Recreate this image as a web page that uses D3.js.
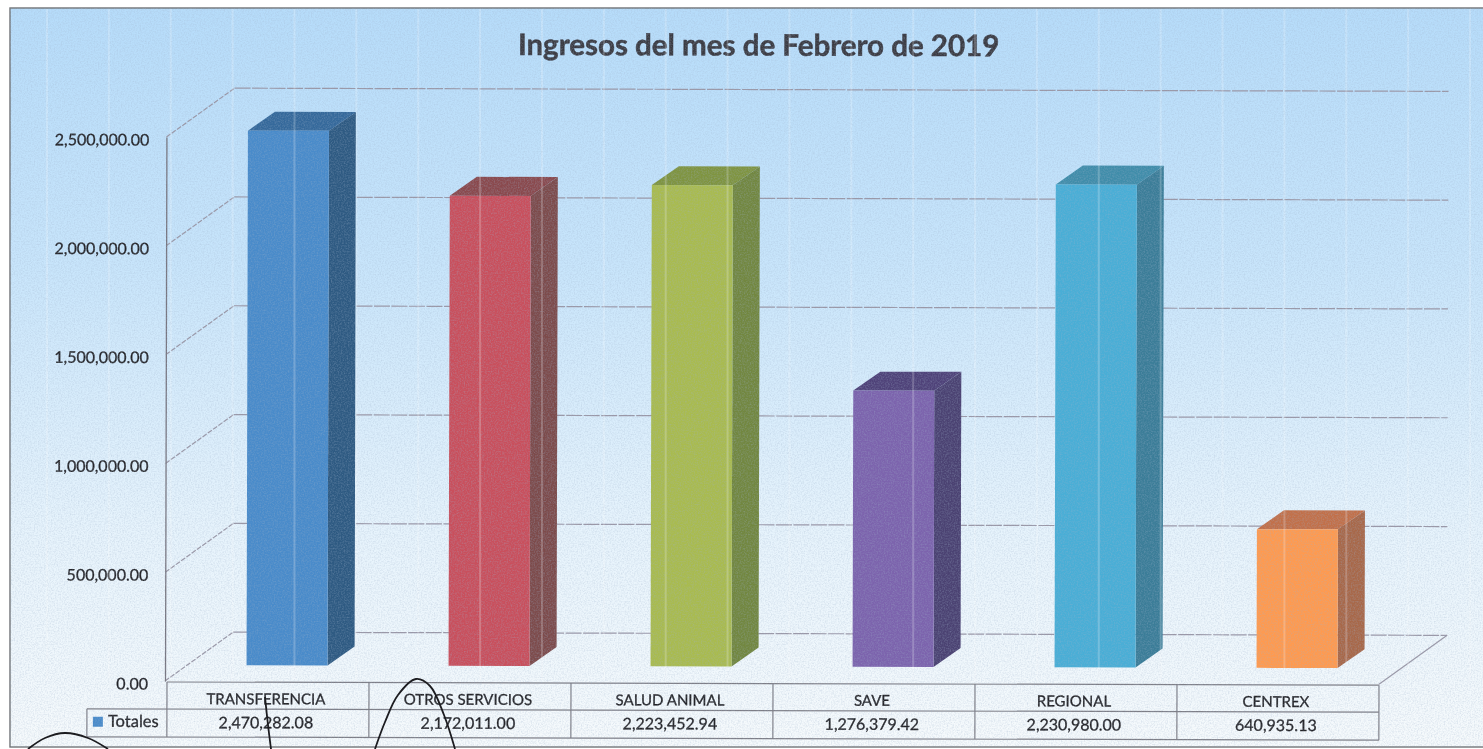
<!DOCTYPE html>
<html>
<head>
<meta charset="utf-8">
<style>
  html, body { margin: 0; padding: 0; background: #fff; overflow: hidden; }
  text { font-family: Lato, "Open Sans", sans-serif; fill: #242428; stroke: #242428; stroke-width: 0.3px; }
</style>
<script src="https://cdn.jsdelivr.net/npm/d3@7"></script>
</head>
<body>
<div id="chart"></div>
<script>
const titleText = 'Ingresos del mes de Febrero de 2019';
const categories = ['TRANSFERENCIA', 'OTROS SERVICIOS', 'SALUD ANIMAL', 'SAVE', 'REGIONAL', 'CENTREX'];
const totals = [2470282.08, 2172011.00, 2223452.94, 1276379.42, 2230980.00, 640935.13];
const tickValues = [0, 500000, 1000000, 1500000, 2000000, 2500000];
const seriesName = 'Totales';
const frontColors = ['#4a8bca', '#c9505b', '#a9bb50', '#7c63ad', '#4aaed6', '#ff9a50'];
const topColors = ['#35699b', '#8a4a4e', '#7f9440', '#4f4279', '#3f8daa', '#c2704a'];
const sideColors = ['#2f5a82', '#7d4b4b', '#72873f', '#4b4272', '#3a7d98', '#a8674a'];

// pen marks on the scanned page
const penArcA = [[28, 749], [45, 738], [65, 733], [88, 738], [108, 749]];
const penArcB = [[375, 749], [385, 722], [398, 695], [416, 679], [430, 686], [444, 715], [455, 749]];
const penStroke = [[265, 697], [268, 725], [271, 749]];

const width = 1483, height = 749;
const depthX = 68, depthY = 49;   // back wall offset
const barDX = 27, barDY = 19;     // bar depth

const svg = d3.select('#chart').append('svg')
  .attr('width', width)
  .attr('height', height)
  .style('display', 'block');

const defs = svg.append('defs');

const grad = defs.append('linearGradient')
  .attr('id', 'bg').attr('x1', 0).attr('y1', 0).attr('x2', 0).attr('y2', 1);
grad.append('stop').attr('offset', '0%').attr('stop-color', '#b6dcfa');
grad.append('stop').attr('offset', '35%').attr('stop-color', '#c8e5fb');
grad.append('stop').attr('offset', '70%').attr('stop-color', '#e6f3fc');
grad.append('stop').attr('offset', '100%').attr('stop-color', '#f6fafc');

// paper grain
const grain = defs.append('filter').attr('id', 'grain')
  .attr('x', 0).attr('y', 0).attr('width', '100%').attr('height', '100%');
grain.append('feTurbulence')
  .attr('type', 'fractalNoise').attr('baseFrequency', 0.7).attr('numOctaves', 2).attr('seed', 4);
grain.append('feColorMatrix')
  .attr('type', 'matrix')
  .attr('values', '0 0 0 0 0.35  0 0 0 0 0.45  0 0 0 0 0.6  0 0 0 1.1 -0.42');

const soft = defs.append('filter').attr('id', 'soft');
soft.append('feGaussianBlur').attr('stdDeviation', 0.45);

const page = svg.append('g').attr('filter', 'url(#soft)');

page.append('rect')
  .attr('x', 10).attr('y', 8)
  .attr('width', width).attr('height', 739)
  .attr('fill', 'url(#bg)')
  .attr('stroke', '#6f7275')
  .attr('stroke-width', 1.4);

// slight skew from the scanner
const chart = page.append('g').attr('transform', 'rotate(0.15 167 682)');

const y = d3.scaleLinear().domain([0, 2500000]).range([681, 137]);
const barY = d3.scaleLinear().domain([0, 2500000]).range([665, 124]);
const x = d3.scaleBand().domain(categories).range([167, 1379]);
const barOffset = 79.5, barWidth = 81;

// back wall and side wall grid
const lineColor = '#9a97a6';
const grid = chart.append('g').attr('fill', 'none').attr('stroke', lineColor).attr('stroke-width', 1.2);
grid.selectAll('line.back').data(tickValues).join('line')
  .attr('class', 'back')
  .attr('x1', 165 + depthX).attr('x2', 1379 + depthX)
  .attr('y1', d => y(d) - depthY).attr('y2', d => y(d) - depthY)
  .attr('stroke-dasharray', '16 1.5');
grid.selectAll('line.side').data(tickValues).join('line')
  .attr('class', 'side')
  .attr('x1', 165).attr('x2', 165 + depthX)
  .attr('y1', d => y(d)).attr('y2', d => y(d) - depthY)
  .attr('stroke-dasharray', '5 1.5');
grid.append('line')
  .attr('x1', 1379).attr('x2', 1379 + depthX)
  .attr('y1', y(0)).attr('y2', y(0) - depthY);

// y axis
const yAxis = chart.append('g')
  .attr('transform', 'translate(165,0)')
  .call(d3.axisLeft(y).tickValues(tickValues).tickFormat(d3.format(',.2f')).tickSize(0).tickPadding(17));
yAxis.select('.domain').attr('stroke', '#77757f').attr('stroke-width', 1.3);
yAxis.selectAll('text').style('font-size', '16px').style('font-family', 'Lato').attr('dy', '0.5em');

// bars
const bars = chart.append('g').selectAll('g').data(categories).join('g');
const bx = d => x(d) + barOffset;
const barTop = (d, i) => barY(totals[i]);

bars.append('path')
  .attr('fill', (d, i) => topColors[i])
  .attr('d', (d, i) => {
    const l = bx(d), t = barTop(d, i);
    return d3.line()([[l, t], [l + barDX, t - barDY], [l + barWidth + barDX, t - barDY], [l + barWidth, t]]) + 'Z';
  });
bars.append('path')
  .attr('fill', (d, i) => sideColors[i])
  .attr('d', (d, i) => {
    const r = bx(d) + barWidth, t = barTop(d, i), b = barY(0);
    return d3.line()([[r, t], [r + barDX, t - barDY], [r + barDX, b - barDY], [r, b]]) + 'Z';
  });
bars.append('rect')
  .attr('x', bx)
  .attr('y', barTop)
  .attr('width', barWidth)
  .attr('height', (d, i) => barY(0) - barTop(d, i))
  .attr('fill', (d, i) => frontColors[i]);

// data table
const rowTop = 682, rowMid = 709, rowBottom = 737, legendLeft = 87;
const table = chart.append('g').attr('stroke', '#7d7d85').attr('stroke-width', 1.2).attr('fill', 'none');
table.append('line').attr('x1', 167).attr('x2', 1379).attr('y1', rowTop).attr('y2', rowTop);
table.append('line').attr('x1', legendLeft).attr('x2', 1379).attr('y1', rowMid).attr('y2', rowMid);
table.append('line').attr('x1', legendLeft).attr('x2', 1379).attr('y1', rowBottom).attr('y2', rowBottom);
table.append('line').attr('x1', legendLeft).attr('x2', legendLeft).attr('y1', rowMid).attr('y2', rowBottom);
table.selectAll('line.col').data(categories).join('line')
  .attr('class', 'col')
  .attr('x1', d => x(d)).attr('x2', d => x(d))
  .attr('y1', rowTop).attr('y2', rowBottom);
table.append('line').attr('x1', 1379).attr('x2', 1379).attr('y1', rowTop).attr('y2', rowBottom);

chart.append('g').selectAll('text').data(categories).join('text')
  .attr('x', d => x(d) + x.bandwidth() / 2 - 2)
  .attr('y', 704)
  .attr('text-anchor', 'middle')
  .style('font-size', '15px')
  .text(d => d);

chart.append('g').selectAll('text').data(totals).join('text')
  .attr('x', (d, i) => x(categories[i]) + x.bandwidth() / 2 - 2)
  .attr('y', 728)
  .attr('text-anchor', 'middle')
  .style('font-size', '16px')
  .text(d => d3.format(',.2f')(d));

chart.append('rect')
  .attr('x', 93).attr('y', 717).attr('width', 10).attr('height', 10)
  .attr('fill', frontColors[0]);
chart.append('text')
  .attr('x', 108).attr('y', 727)
  .style('font-size', '16.5px')
  .text(seriesName);

chart.append('text')
  .attr('x', 757).attr('y', 54)
  .attr('text-anchor', 'middle')
  .style('font-size', '29.5px')
  .style('font-weight', 700)
  .style('fill', '#3a3a42')
  .style('stroke', '#3a3a42')
  .style('stroke-width', '0.5px')
  .text(titleText);

// vertical paper stripes, over everything
page.append('g').selectAll('line').data(d3.range(47, width, 61.87)).join('line')
  .attr('x1', d => d).attr('x2', d => d)
  .attr('y1', 9).attr('y2', 680)
  .attr('stroke', '#fff')
  .attr('stroke-width', 2)
  .attr('stroke-opacity', 0.22);

// grain on the paper
svg.append('rect')
  .attr('x', 10).attr('y', 8)
  .attr('width', width).attr('height', 739)
  .attr('filter', 'url(#grain)')
  .attr('opacity', 0.6);

// pen marks
const pen = d3.line().curve(d3.curveCatmullRom);
svg.append('g').attr('fill', 'none').attr('stroke', '#1c1c20').attr('stroke-width', 1.8)
  .selectAll('path').data([penArcA, penArcB, penStroke]).join('path')
  .attr('d', d => pen(d));
</script>
</body>
</html>
